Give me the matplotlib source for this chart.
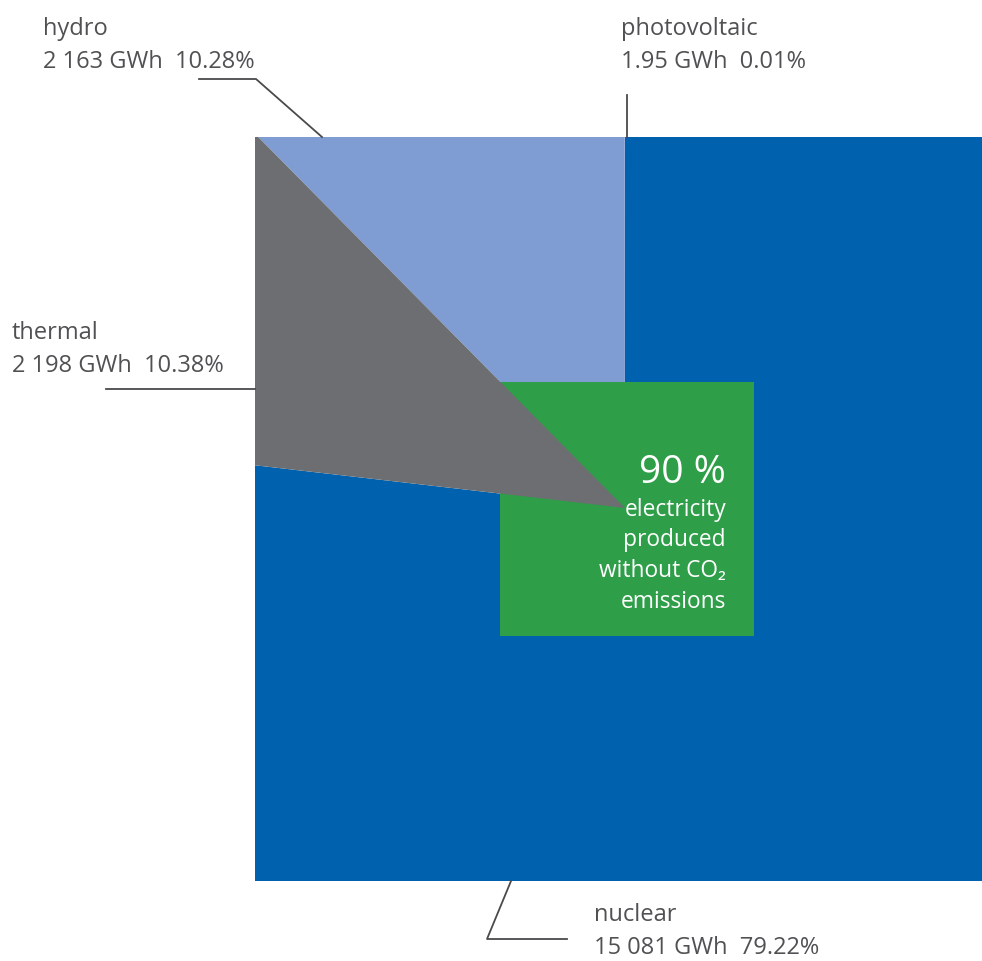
import matplotlib
matplotlib.use("Agg")
import matplotlib.pyplot as plt
from matplotlib.patches import Wedge, Rectangle

# ---- data ----
sources = ["photovoltaic", "hydro", "thermal", "nuclear"]
gwh_labels = ["1.95", "2 163", "2 198", "15 081"]
pct_labels = ["0.01%", "10.28%", "10.38%", "79.22%"]
# angular share of each wedge as drawn in the reference (counter-clockwise from 12 o'clock)
drawn_share = [0.0001, 0.124, 0.1076, 0.7683]
colors = ["#7f9dd3", "#7f9dd3", "#6d6e71", "#0062ae"]
headline = "90 %"
headline_sub = ["electricity", "produced", "without CO\u2082", "emissions"]

FONT = ["Open Sans", "DejaVu Sans"]
TXT = "#505153"
LINE = "#4a4a4c"

fig = plt.figure(figsize=(9.82, 9.61), dpi=100)
ax = fig.add_axes([0, 0, 1, 1])
ax.set_xlim(0, 982)
ax.set_ylim(961, 0)
ax.axis("off")

# square frame that clips the pie
sq_x0, sq_y0, sq_x1, sq_y1 = 255, 137, 982, 881
clip = Rectangle((sq_x0, sq_y0), sq_x1 - sq_x0, sq_y1 - sq_y0, transform=ax.transData,
                 facecolor="none", edgecolor="none")
ax.add_patch(clip)

cx, cy, R = 625, 508, 1200
start = 90.0
wedges = {}
for name, share, col in zip(sources, drawn_share, colors):
    a1 = start
    a2 = start + share * 360.0
    # y axis is inverted -> visual angle a corresponds to data theta -a
    w = Wedge((cx, cy), R, -a2, -a1, facecolor=col, edgecolor="none", linewidth=0)
    wedges[name] = w
    start = a2

zmap = {"nuclear": 1, "photovoltaic": 2, "hydro": 2, "thermal": 4}
for name in sources:
    w = wedges[name]
    w.set_zorder(zmap[name])
    ax.add_patch(w)
    w.set_clip_path(clip)

# green square in the centre
gx0, gy0, gx1, gy1 = 500, 382, 754, 636
ax.add_patch(Rectangle((gx0, gy0), gx1 - gx0, gy1 - gy0, facecolor="#2e9e48",
                       edgecolor="none", zorder=3))

ax.text(726, 483, headline, ha="right", va="baseline", fontsize=28, color="white",
        family=FONT, zorder=6)
for i, s in enumerate(headline_sub):
    ax.text(726, 516 + i * 30.5, s, ha="right", va="baseline", fontsize=16.4,
            color="white", family=FONT, zorder=6)

# labels
def label(x, y, idx):
    ax.text(x, y, sources[idx], ha="left", va="baseline", fontsize=17, color=TXT,
            family=FONT, zorder=6)
    ax.text(x, y + 33, f"{gwh_labels[idx]} GWh  {pct_labels[idx]}", ha="left",
            va="baseline", fontsize=17, color=TXT, family=FONT, zorder=6)

label(43, 35, 1)
label(621, 35, 0)
label(12, 339, 2)
label(594, 921, 3)

lw = 1.3
ax.plot([199, 256, 322], [79, 79, 137], color=LINE, lw=lw, zorder=7)
ax.plot([627, 627], [95, 137], color=LINE, lw=lw, zorder=7)
ax.plot([106, 255], [389, 389], color=LINE, lw=lw, zorder=7)
ax.plot([511, 487, 567], [881, 939, 939], color=LINE, lw=lw, zorder=7)

fig.savefig("out.png", dpi=100)
